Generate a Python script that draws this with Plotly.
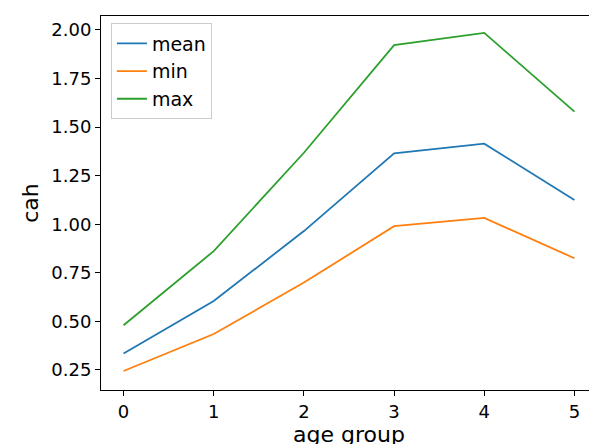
import plotly.graph_objects as go

age_group = [0, 1, 2, 3, 4, 5]
cah_mean = [0.335, 0.605, 0.965, 1.365, 1.415, 1.125]
cah_min = [0.245, 0.435, 0.700, 0.990, 1.033, 0.825]
cah_max = [0.480, 0.862, 1.368, 1.922, 1.985, 1.580]

colors = {'mean': '#1f77b4', 'min': '#ff7f0e', 'max': '#2ca02c'}

fig = go.Figure()
for name, vals in [('mean', cah_mean), ('min', cah_min), ('max', cah_max)]:
    fig.add_trace(go.Scatter(x=age_group, y=vals, mode='lines', name=name,
                             line=dict(color=colors[name], width=1.8)))

axis_style = dict(showline=True, linecolor='black', linewidth=1, mirror=True,
                  ticks='outside', ticklen=5, tickcolor='black', showgrid=False,
                  zeroline=False, automargin=False, tickfont=dict(size=18, color='black'))

fig.update_layout(
    width=597, height=444,
    margin=dict(l=93, r=8, t=8, b=62),
    paper_bgcolor='white', plot_bgcolor='white',
    font=dict(family='DejaVu Sans', size=18, color='black'),
    xaxis=dict(range=[-0.25, 5.25], dtick=1, title=dict(text='age group', standoff=4), **axis_style),
    yaxis=dict(range=[0.147, 2.072], tickvals=[0.25, 0.5, 0.75, 1.0, 1.25, 1.5, 1.75, 2.0],
               tickformat='.2f', title=dict(text='cah', standoff=6), **axis_style),
    legend=dict(x=0.02, y=0.98, xanchor='left', yanchor='top', bordercolor='#cccccc',
                borderwidth=1, bgcolor='white', font=dict(size=19)),
)
fig.write_html("out.html")
